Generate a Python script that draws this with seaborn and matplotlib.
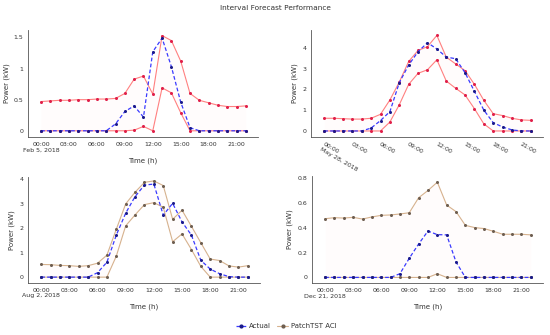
import numpy as np
import pandas as pd
import matplotlib
matplotlib.use("Agg")
import matplotlib.pyplot as plt
from matplotlib.ticker import FuncFormatter
from matplotlib.lines import Line2D
import seaborn as sns

hours = list(range(23))
tick_hours = [0, 3, 6, 9, 12, 15, 18, 21]
tick_labels = ["00:00", "03:00", "06:00", "09:00", "12:00", "15:00", "18:00", "21:00"]
dates = ["Feb 5, 2018", "May 28, 2018", "Aug 2, 2018", "Dec 21, 2018"]

feb_upper = [0.47, 0.48, 0.49, 0.49, 0.50, 0.50, 0.51, 0.51, 0.52, 0.60, 0.83, 0.88, 0.59, 1.53, 1.45, 1.12, 0.60, 0.49, 0.45, 0.41, 0.39, 0.39, 0.40]
feb_lower = [0, 0, 0, 0, 0, 0, 0, 0, 0, 0, 0.01, 0.07, 0, 0.69, 0.61, 0.29, 0, 0, 0, 0, 0, 0, 0]
feb_actual = [0, 0, 0, 0, 0, 0, 0, 0, 0.11, 0.31, 0.40, 0.22, 1.27, 1.49, 1.03, 0.46, 0.05, 0, 0, 0, 0, 0, 0]

may_upper = [0.61, 0.61, 0.59, 0.57, 0.57, 0.61, 0.80, 1.49, 2.35, 3.34, 3.87, 4.05, 4.59, 3.55, 3.22, 2.90, 2.24, 1.47, 0.83, 0.74, 0.61, 0.53, 0.51]
may_lower = [0, 0, 0, 0, 0, 0, 0, 0.43, 1.26, 2.24, 2.77, 2.94, 3.42, 2.40, 2.05, 1.73, 1.07, 0.34, 0, 0, 0, 0, 0]
may_actual = [0, 0, 0, 0, 0, 0.14, 0.50, 0.93, 2.32, 3.17, 3.81, 4.24, 3.94, 3.55, 3.47, 2.80, 1.90, 1.00, 0.40, 0.19, 0.05, 0, 0]

aug_upper = [0.52, 0.51, 0.48, 0.47, 0.44, 0.47, 0.57, 0.90, 1.96, 3.00, 3.48, 3.88, 3.94, 3.75, 2.37, 2.74, 2.08, 1.41, 0.74, 0.68, 0.46, 0.41, 0.47]
aug_lower = [0, 0, 0, 0, 0, 0, 0, 0, 0.86, 2.10, 2.55, 2.97, 3.05, 2.86, 1.45, 1.77, 1.13, 0.44, 0, 0, 0, 0, 0]
aug_actual = [0, 0, 0, 0, 0, 0, 0.18, 0.61, 1.72, 2.62, 3.30, 3.77, 3.81, 2.54, 3.02, 2.26, 1.72, 0.69, 0.33, 0.14, 0.02, 0, 0]

dec_upper = [0.475, 0.483, 0.480, 0.486, 0.472, 0.489, 0.502, 0.505, 0.513, 0.523, 0.644, 0.703, 0.770, 0.585, 0.532, 0.421, 0.403, 0.395, 0.373, 0.349, 0.349, 0.349, 0.344]
dec_lower = [0, 0, 0, 0, 0, 0, 0, 0, 0, 0, 0, 0, 0.03, 0, 0, 0, 0, 0, 0, 0, 0, 0, 0]
dec_actual = [0, 0, 0, 0, 0, 0, 0, 0, 0.03, 0.155, 0.27, 0.375, 0.346, 0.344, 0.125, 0, 0, 0, 0, 0, 0, 0, 0]

yticks_list = [[0, 0.5, 1, 1.5], [0, 1, 2, 3, 4], [0, 1, 2, 3, 4], [0, 0.2, 0.4, 0.6, 0.8]]
ylims = [(-0.1, 1.62), (-0.29, 4.85), (-0.24, 4.1), (-0.045, 0.82)]

panels = [
    (feb_upper, feb_lower, feb_actual),
    (may_upper, may_lower, may_actual),
    (aug_upper, aug_lower, aug_actual),
    (dec_upper, dec_lower, dec_actual),
]

sns.set_theme(style="white")
plt.rcParams['font.family'] = ['DejaVu Sans']

W, H = 550, 335
fig = plt.figure(figsize=(5.5, 3.35), dpi=100)

rects_px = [
    (28, 30, 258, 137),
    (311, 30, 543, 137),
    (28, 177, 260, 283),
    (312, 176, 543, 283),
]

red_line = "#ff8080"
red_mark = "#e0204a"
tan_line = "#d6b28e"
tan_mark = "#6e5e50"
blue_line = "#3a3aff"
blue_mark = "#1a1a8a"
axis_col = "#555555"
text_col = "#333333"

for i, ((up, lo, act), (x0, y0, x1, y1)) in enumerate(zip(panels, rects_px)):
    ax = fig.add_axes([x0 / W, 1 - y1 / H, (x1 - x0) / W, (y1 - y0) / H])
    if i < 2:
        lc, mc = red_line, red_mark
    else:
        lc, mc = tan_line, tan_mark
    df = pd.DataFrame({"hour": hours, "upper": up, "lower": lo, "actual": act})
    ax.fill_between(df["hour"], df["lower"], df["upper"], color="#ff9999", alpha=0.025, lw=0)
    for col in ["upper", "lower"]:
        sns.lineplot(data=df, x="hour", y=col, ax=ax, color=lc, linewidth=0.8,
                     marker="o", markersize=2.2, markerfacecolor=mc, markeredgecolor=mc,
                     markeredgewidth=0, zorder=2)
    sns.lineplot(data=df, x="hour", y="actual", ax=ax, color=blue_line, linewidth=0.9,
                 linestyle=(0, (3, 1.8)), marker="o", markersize=2.2,
                 markerfacecolor=blue_mark, markeredgecolor=blue_mark,
                 markeredgewidth=0, zorder=3)
    ax.set_xlim(-1.4, 23.3)
    ax.set_ylim(*ylims[i])
    ax.set_yticks(yticks_list[i])
    ax.yaxis.set_major_formatter(FuncFormatter(lambda v, p: "{:g}".format(v)))
    labels = list(tick_labels)
    labels[0] = labels[0] + "\n" + dates[i]
    ax.set_xticks(tick_hours)
    if i == 1:
        ax.set_xticklabels(labels, rotation=-30, ha="left", rotation_mode="anchor",
                           multialignment="left")
    else:
        ax.set_xticklabels(labels)
    for s in ["top", "right"]:
        ax.spines[s].set_visible(False)
    for s in ["left", "bottom"]:
        ax.spines[s].set_color(axis_col)
        ax.spines[s].set_linewidth(0.6)
    ax.tick_params(axis="both", labelsize=4.5, colors=text_col, length=1.5, width=0.5,
                   pad=1.8, color=axis_col)
    ax.set_xlabel("Time (h)", fontsize=5.0, color=text_col, labelpad=4)
    ax.set_ylabel("Power (kW)", fontsize=5.0, color=text_col, labelpad=3)
    if i == 1:
        ax.xaxis.set_label_coords(0.5, -0.39)

fig.text(0.5, 1 - 8 / H, "Interval Forecast Performance", ha="center", va="center",
         fontsize=5.3, color=text_col)

handles = [
    Line2D([], [], color=blue_line, linestyle=(0, (3, 1.8)), linewidth=0.9, marker="o",
           markersize=2, markerfacecolor=blue_mark, markeredgecolor=blue_mark),
    Line2D([], [], color=tan_line, linewidth=0.8, marker="o", markersize=2,
           markerfacecolor=tan_mark, markeredgecolor=tan_mark),
]
fig.legend(handles, ["Actual", "PatchTST ACI"], loc="center", bbox_to_anchor=(0.52, 1 - 326 / H),
           ncol=2, frameon=False, fontsize=5.0, handlelength=1.6, handletextpad=0.4,
           columnspacing=0.8, labelcolor=text_col)

fig.savefig("out.png", dpi=100)
